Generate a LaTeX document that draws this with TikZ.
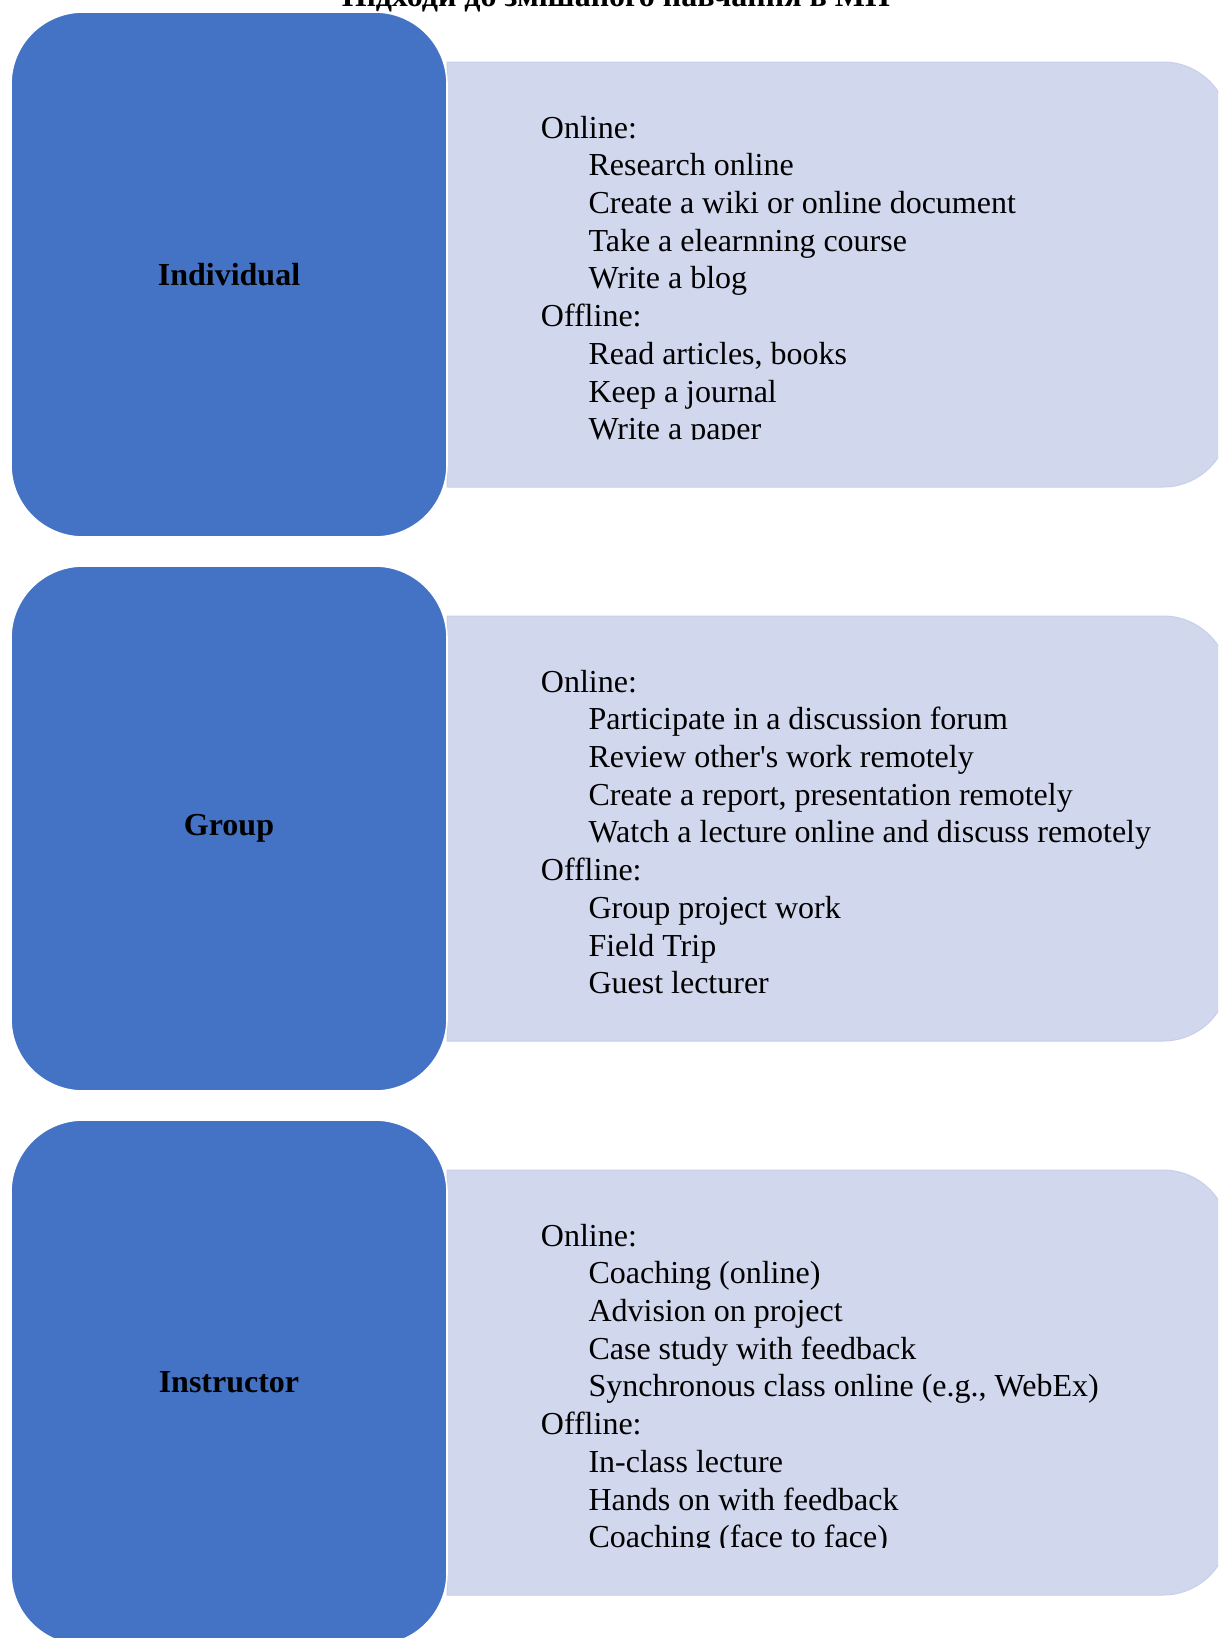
\documentclass[tikz,border=0pt]{standalone}
\usepackage{fontspec}
\setmainfont{Liberation Serif}
\definecolor{catblue}{HTML}{4472C4}
\definecolor{listfill}{HTML}{D1D7EC}
\definecolor{listedge}{HTML}{C8CFE8}
\newcommand{\itemind}{\hspace*{47.6pt}}
\newcommand{\listpanel}[2]{%
  % #1 = top edge (y, downward), #2 = name of the panel
  \path[listbox] (447,-#1) -- (1163,-#1)
    arc[start angle=90,end angle=0,radius=66] -- (1229,-#1-359)
    arc[start angle=0,end angle=-90,radius=66] -- (447,-#1-425) -- cycle;
}
\begin{document}
\begin{tikzpicture}[x=1pt,y=1pt,
  catbox/.style={draw=white,line width=1.6pt,fill=catblue,rounded corners=72pt,
    minimum width=436pt,minimum height=525pt,inner sep=0pt,
    font=\bfseries\fontsize{32}{37}\selectfont},
  listbox/.style={fill=listfill,draw=listedge,line width=1pt},
  listtext/.style={anchor=base west,inner sep=0pt,
    font=\fontsize{32}{37.74}\selectfont},
  heading/.style={anchor=base,inner sep=0pt,
    font=\bfseries\fontsize{32}{37}\selectfont}]
\clip (0,0) rectangle (1218,-1638);
\fill[white] (0,0) rectangle (1218,-1638);

% heading (runs off the top edge)
\node[heading] (title) at (616,-6.5) {Підходи до змішаного навчання в МП};

% light list panels
\listpanel{62}{p1}
\listpanel{616}{p2}
\listpanel{1170}{p3}

% panel texts, cut off at the lower text margin
\begin{scope}
\clip (447,-62) rectangle (1229,-439.6);
\node[listtext] (t1) at (540.7,-138) {\parbox[t]{680pt}{%
Online:\\
\itemind Research online\\
\itemind Create a wiki or online document\\
\itemind Take a elearnning course\\
\itemind Write a blog\\
Offline:\\
\itemind Read articles, books\\
\itemind Keep a journal\\
\itemind Write a paper}};
\end{scope}

\begin{scope}
\clip (447,-616) rectangle (1229,-993.6);
\node[listtext] (t2) at (540.7,-692) {\parbox[t]{680pt}{%
Online:\\
\itemind Participate in a discussion forum\\
\itemind Review other\textquotesingle s work remotely\\
\itemind Create a report, presentation remotely\\
\itemind Watch a lecture online and discuss remotely\\
Offline:\\
\itemind Group project work\\
\itemind Field Trip\\
\itemind Guest lecturer}};
\end{scope}

\begin{scope}
\clip (447,-1170) rectangle (1229,-1547.4);
\node[listtext] (t3) at (540.7,-1246) {\parbox[t]{680pt}{%
Online:\\
\itemind Coaching (online)\\
\itemind Advision on project\\
\itemind Case study with feedback\\
\itemind Synchronous class online (e.g., WebEx)\\
Offline:\\
\itemind In-class lecture\\
\itemind Hands on with feedback\\
\itemind Coaching (face to face)}};
\end{scope}

% category boxes
\node[catbox] (individual) at (229,-274.5) {Individual};
\node[catbox] (group) at (229,-828.5) {Group};
\node[catbox] (instructor) at (229,-1382.5) {Instructor};
\end{tikzpicture}
\end{document}
